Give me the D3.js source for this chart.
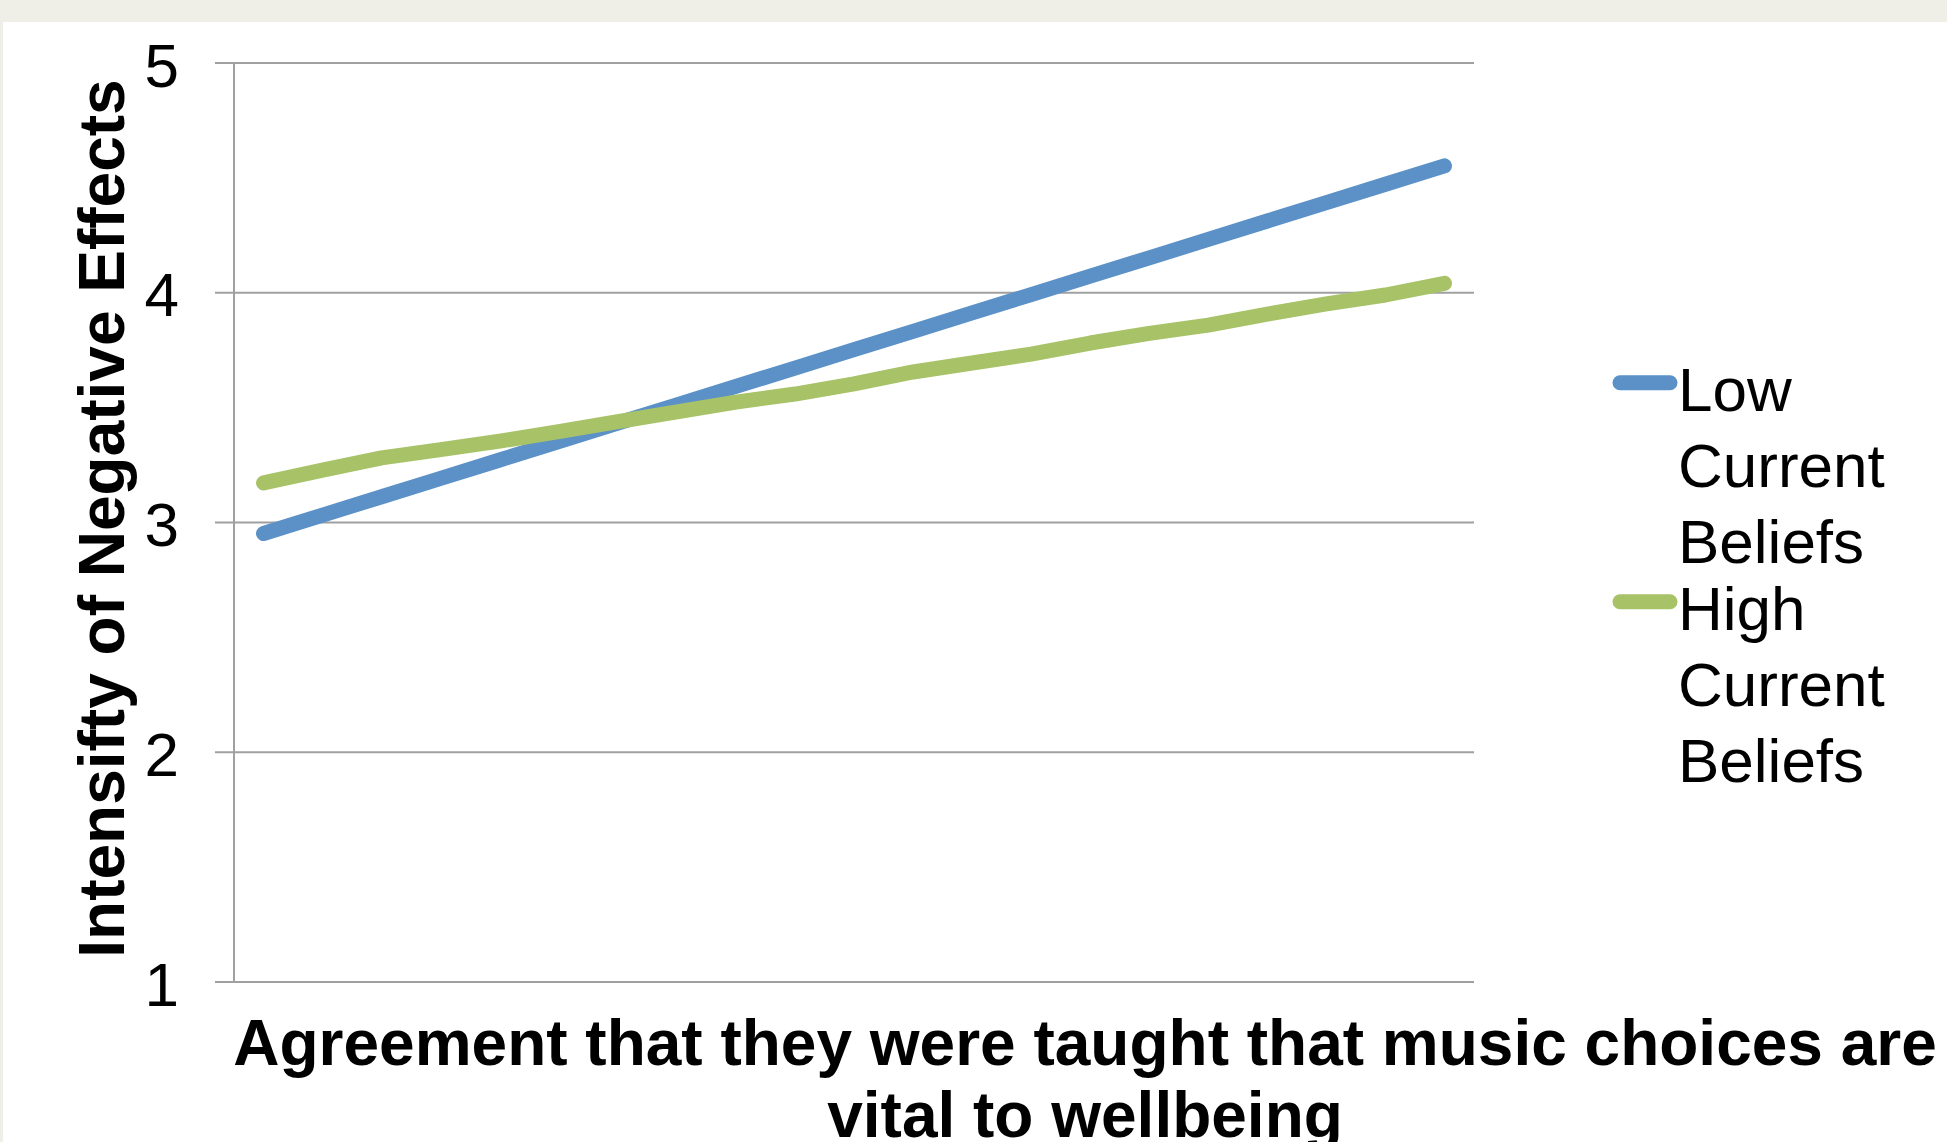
<!DOCTYPE html>
<html>
<head>
<meta charset="utf-8">
<script src="https://cdn.jsdelivr.net/npm/d3@7"></script>
<style>
  html, body { margin: 0; padding: 0; background: #efefe7; }
  svg { display: block; }
</style>
</head>
<body>
<svg id="chart" width="1947" height="1142"></svg>
<script>
// ---- data ----
const categories = d3.range(1, 22).map(String);
const lowCurrentBeliefs = [2.95, 3.03, 3.11, 3.19, 3.27, 3.35, 3.43, 3.51, 3.59, 3.67, 3.75,
                           3.83, 3.91, 3.99, 4.07, 4.15, 4.23, 4.31, 4.39, 4.47, 4.55];
const highCurrentBeliefs = [3.17, 3.226, 3.279, 3.315, 3.352, 3.393, 3.437, 3.479, 3.522, 3.557, 3.601,
                            3.653, 3.692, 3.731, 3.779, 3.821, 3.857, 3.905, 3.949, 3.988, 4.039];
const seriesNames = ["Low Current Beliefs", "High Current Beliefs"];
const legendLines = [["Low", "Current", "Beliefs"], ["High", "Current", "Beliefs"]];
const yTicks = [1, 2, 3, 4, 5];
const yTitle = "Intensifty of Negative Effects";
const xTitleLines = ["Agreement that they were taught that music choices are", "vital to wellbeing"];
const colors = ["#5b91c7", "#a8c267"];

// ---- layout ----
const svg = d3.select("#chart");
svg.append("rect").attr("x", 3).attr("y", 22).attr("width", 1944).attr("height", 1120).attr("fill", "#ffffff");

const plot = { left: 234, right: 1474, top: 62.5, bottom: 981.5 };
const x = d3.scalePoint().domain(categories).range([plot.left, plot.right]).padding(0.5);
const y = d3.scaleLinear().domain([1, 5]).range([plot.bottom, plot.top]);

const font = "'Liberation Sans', Arial, Helvetica, sans-serif";

// gridlines + y axis ticks
const yAxis = d3.axisLeft(y).tickValues(yTicks).tickSize(plot.right - plot.left + 19).tickFormat(d3.format("d")).tickPadding(36);
const gy = svg.append("g").attr("transform", `translate(${plot.right},0)`).call(yAxis);
gy.select(".domain").remove();
gy.selectAll(".tick line").attr("stroke", "#a0a0a0").attr("stroke-width", 2);
gy.selectAll(".tick text")
  .attr("font-family", font).attr("font-size", 62).attr("fill", "#000")
  .attr("dy", "0.38em");
gy.selectAll(".tick text").attr("x", -(plot.right - plot.left + 19) - 36 + 0);

// vertical axis line
svg.append("line").attr("x1", plot.left).attr("x2", plot.left).attr("y1", plot.top).attr("y2", plot.bottom)
  .attr("stroke", "#a0a0a0").attr("stroke-width", 2);

// series lines
const line = d3.line().x((d, i) => x(categories[i])).y(d => y(d));
[lowCurrentBeliefs, highCurrentBeliefs].forEach((vals, k) => {
  svg.append("path").datum(vals).attr("d", line)
    .attr("fill", "none").attr("stroke", colors[k]).attr("stroke-width", 15)
    .attr("stroke-linecap", "round").attr("stroke-linejoin", "round");
});

// legend
const legendY = [382.7, 601.7];
legendLines.forEach((lines, k) => {
  svg.append("line").attr("x1", 1620).attr("x2", 1670).attr("y1", legendY[k]).attr("y2", legendY[k])
    .attr("stroke", colors[k]).attr("stroke-width", 15).attr("stroke-linecap", "round");
  const t = svg.append("text").attr("font-family", font).attr("font-size", 62).attr("fill", "#000");
  lines.forEach((s, j) => {
    t.append("tspan").attr("x", 1678).attr("y", legendY[k] + 28 + j * 76).text(s);
  });
});

// y title
svg.append("text")
  .attr("transform", `translate(124,${(75 + 962) / 2}) rotate(-90)`)
  .attr("text-anchor", "middle")
  .attr("font-family", font).attr("font-size", 64).attr("font-weight", "bold").attr("fill", "#000")
  .text(yTitle);

// x title
const xt = svg.append("text").attr("text-anchor", "middle")
  .attr("font-family", font).attr("font-size", 64).attr("font-weight", "bold").attr("fill", "#000");
xTitleLines.forEach((s, j) => {
  xt.append("tspan").attr("x", 1085).attr("y", 1065 + j * 72).text(s);
});
</script>
</body>
</html>
